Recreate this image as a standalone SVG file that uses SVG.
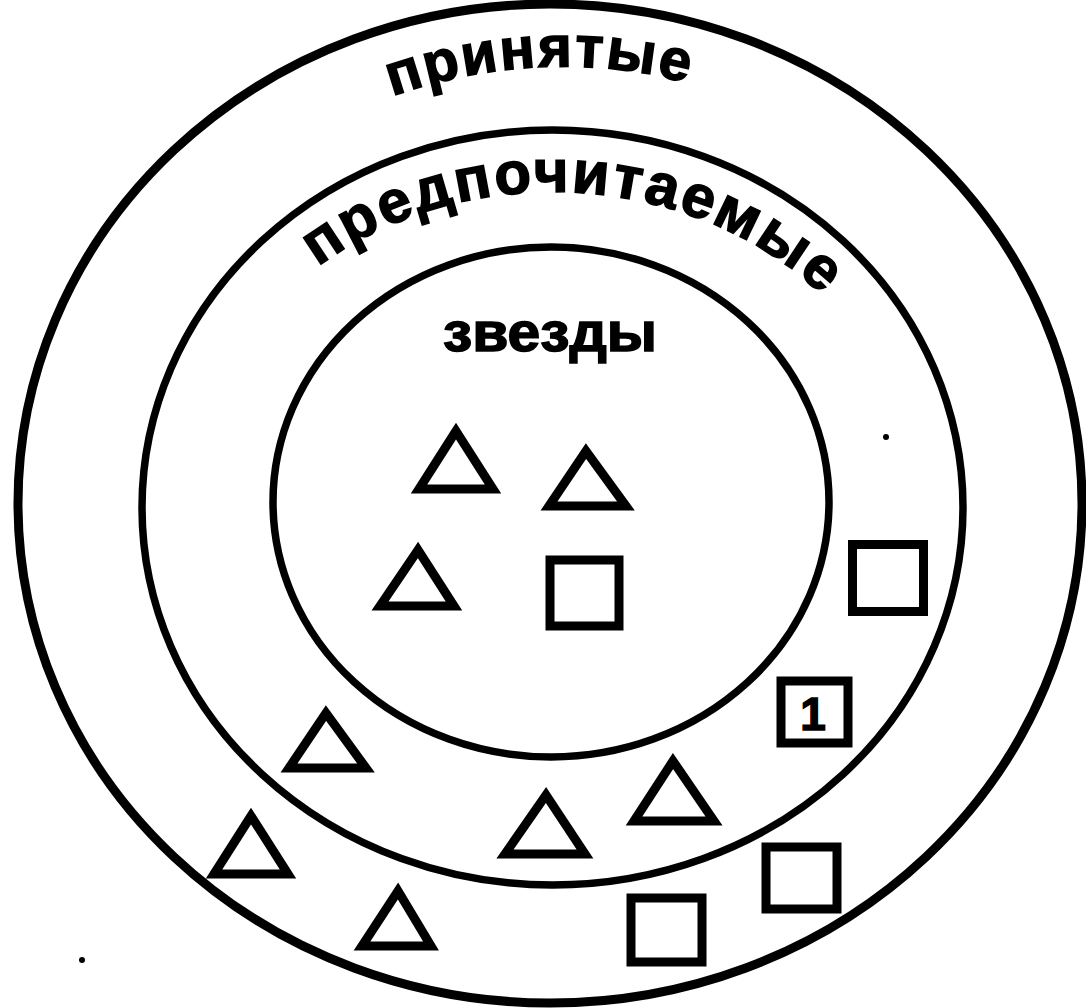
<svg xmlns="http://www.w3.org/2000/svg" width="1086" height="1008" viewBox="0 0 1086 1008">
  <style>
    .ring { fill: none; stroke: #000; }
    .shape { fill: none; stroke: #000; stroke-width: 9; stroke-linejoin: miter; }
    .lbl { font-family: "Liberation Sans", Arial, sans-serif; font-weight: bold; fill: #000; stroke: #000; stroke-width: 1.5; }
  </style>
  <defs>
    <path id="arc1" d="M 390,97 Q 545,43 695,85"/>
    <path id="arc2" d="M 191,504 A 362 312 0 0 1 915,504"/>
  </defs>
  <rect width="1086" height="1008" fill="#fff"/>

  <g id="ring-accepted">
    <ellipse class="ring" cx="550" cy="503.5" rx="532" ry="499.5" stroke-width="9"/>
    <text class="lbl" font-size="58"><textPath href="#arc1" startOffset="2" textLength="300" lengthAdjust="spacing">принятые</textPath></text>
  </g>

  <g id="ring-preferred">
    <ellipse class="ring" cx="552.5" cy="507.5" rx="410.5" ry="377.5" stroke-width="7.5"/>
    <text class="lbl" font-size="60"><textPath href="#arc2" startOffset="279" textLength="546" lengthAdjust="spacing">предпочитаемые</textPath></text>
  </g>

  <g id="ring-stars">
    <ellipse class="ring" cx="551" cy="502" rx="278" ry="255" stroke-width="7.5"/>
    <text class="lbl" x="550" y="351" font-size="56" text-anchor="middle" textLength="214" lengthAdjust="spacingAndGlyphs">звезды</text>
  </g>

  <g id="triangle-1"><polygon class="shape" points="456,431 419,489 493,489"/></g>
  <g id="triangle-2"><polygon class="shape" points="586,451 549,506 626,506"/></g>
  <g id="triangle-3"><polygon class="shape" points="418,550 380,606 454,606"/></g>
  <g id="square-1"><rect class="shape" x="550" y="560" width="69" height="66"/></g>

  <g id="square-2"><rect class="shape" x="852.5" y="544.5" width="71" height="67"/></g>
  <g id="square-numbered">
    <rect class="shape" x="781" y="681" width="67" height="62"/>
    <text class="lbl" x="813" y="730" font-size="46" text-anchor="middle">1</text>
  </g>
  <g id="triangle-4"><polygon class="shape" points="326,713 289,768 366,768"/></g>
  <g id="triangle-5"><polygon class="shape" points="546,795 505,854 585,854"/></g>
  <g id="triangle-6"><polygon class="shape" points="673,761 634,821 714,821"/></g>

  <g id="triangle-7"><polygon class="shape" points="251,816 214,874 288,874"/></g>
  <g id="triangle-8"><polygon class="shape" points="398,891 362,946 431,946"/></g>
  <g id="square-3"><rect class="shape" x="766" y="847" width="71" height="62"/></g>
  <g id="square-4"><rect class="shape" x="631" y="898" width="71" height="64"/></g>

  <g id="connectors"></g>

  <g id="specks" fill="#000">
    <circle cx="886" cy="437" r="3"/>
    <circle cx="82" cy="960" r="3"/>
  </g>
</svg>
